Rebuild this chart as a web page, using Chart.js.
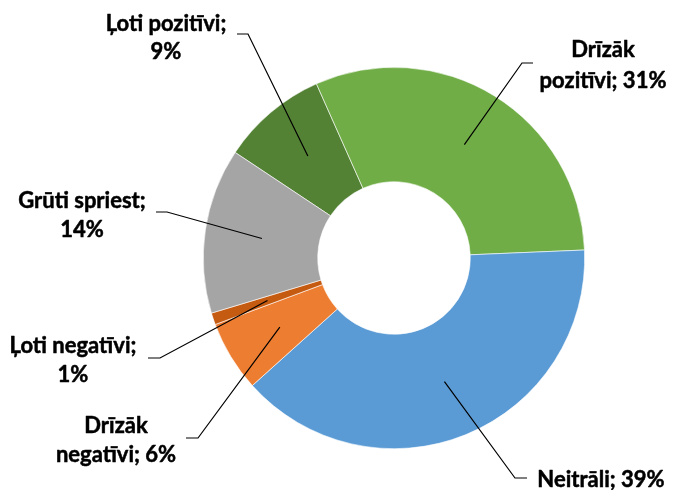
<!DOCTYPE html>
<html>
<head>
<meta charset="utf-8">
<script src="https://cdn.jsdelivr.net/npm/chart.js@4"></script>
<style>
  html, body { margin: 0; padding: 0; background: #fff; }
  #wrap { width: 673px; height: 490px; }
</style>
</head>
<body>
<div id="wrap"><canvas id="chart" width="673" height="490"></canvas></div>
<script>
// data, going clockwise from the dark green slice
const categories = ["Ļoti pozitīvi", "Drīzāk pozitīvi", "Neitrāli", "Drīzāk negatīvi", "Ļoti negatīvi", "Grūti spriest"];
const shares = [9, 31, 39, 6, 1, 14];
const sliceColors = ["#548235", "#70AD47", "#5B9BD5", "#ED7D31", "#C55A11", "#A5A5A5"];

// where each label sits: text lines, text centre x, baselines, elbow of leader line, end of leader line
const labelLayout = [
  { lines: ["Ļoti pozitīvi;", "9%"], x: 166, ys: [31, 59], elbow: [248, 34], end: [237, 34] },
  { lines: ["Drīzāk", "pozitīvi; 31%"], x: 603, ys: [57, 88], elbow: [522, 63], end: [533, 63] },
  { lines: ["Neitrāli; 39%"], x: 601, ys: [487], elbow: [515, 478], end: [527, 478] },
  { lines: ["Drīzāk", "negatīvi; 6%"], x: 116, ys: [433, 462], elbow: [198, 438], end: [186, 438] },
  { lines: ["Ļoti negatīvi;", "1%"], x: 73, ys: [353, 382], elbow: [160, 358], end: [148, 358] },
  { lines: ["Grūti spriest;", "14%"], x: 82, ys: [208, 237], elbow: [167, 212], end: [156, 212] },
];

const calloutPlugin = {
  id: "callouts",
  afterDatasetsDraw(chart) {
    const ctx = chart.ctx;
    const arcs = chart.getDatasetMeta(0).data;
    ctx.save();
    ctx.strokeStyle = "#000";
    ctx.lineWidth = 1.2;
    arcs.forEach((arc, i) => {
      const lay = labelLayout[i];
      const p = arc.getCenterPoint();
      ctx.beginPath();
      ctx.moveTo(p.x, p.y);
      ctx.lineTo(lay.elbow[0], lay.elbow[1]);
      ctx.lineTo(lay.end[0], lay.end[1]);
      ctx.stroke();
    });
    // text a bit heavier than plain Lato bold, like the original
    ctx.fillStyle = "#000";
    ctx.strokeStyle = "#000";
    ctx.lineWidth = 0.5;
    ctx.lineJoin = "round";
    ctx.font = "bold 22px Lato";
    ctx.textAlign = "center";
    ctx.textBaseline = "alphabetic";
    labelLayout.forEach((lay) => {
      lay.lines.forEach((t, j) => {
        ctx.fillText(t, lay.x, lay.ys[j]);
        ctx.strokeText(t, lay.x, lay.ys[j]);
      });
    });
    ctx.restore();
  },
};

new Chart(document.getElementById("chart"), {
  type: "doughnut",
  data: {
    labels: categories,
    datasets: [{
      data: shares,
      backgroundColor: sliceColors,
      borderColor: "#ffffff",
      borderWidth: 0.6,
    }],
  },
  options: {
    responsive: false,
    animation: false,
    rotation: -56.4,
    cutout: "40%",
    layout: { padding: { top: 67, bottom: 41, left: 200, right: 85 } },
    plugins: {
      legend: { display: false },
      tooltip: { enabled: false },
    },
  },
  plugins: [calloutPlugin],
});
</script>
</body>
</html>
